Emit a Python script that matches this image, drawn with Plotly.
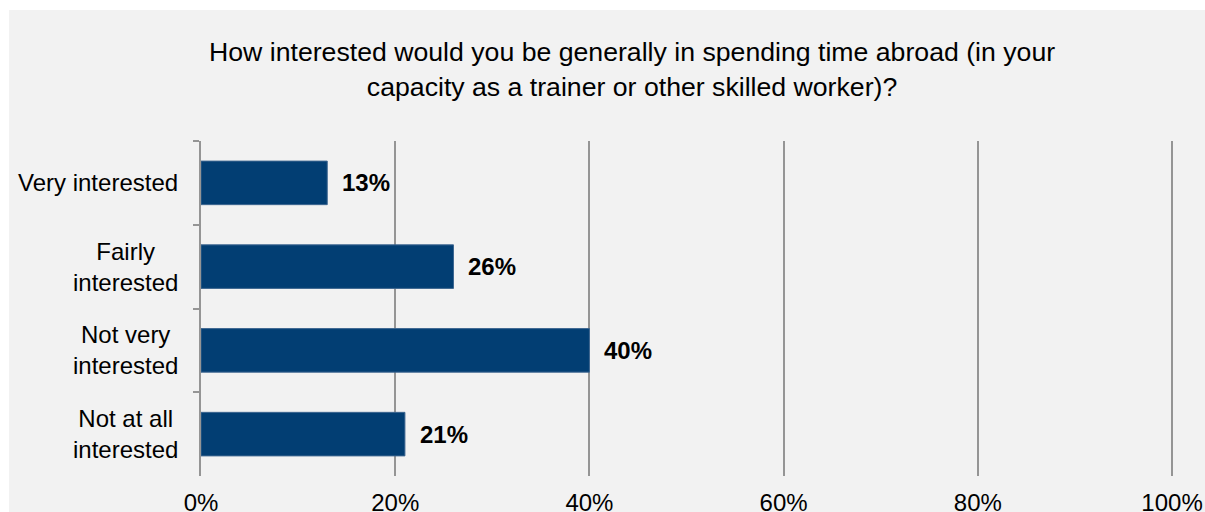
import plotly.graph_objects as go

# Survey responses
categories = ["Very interested", "Fairly<br>interested", "Not very<br>interested", "Not at all<br>interested"]
shares = [13, 26, 40, 21]
x_ticks = [0, 20, 40, 60, 80, 100]
x_tick_labels = ["0%", "20%", "40%", "60%", "80%", "100%"]
title_text = ("How interested would you be generally in spending time abroad (in your<br>"
              "capacity as a trainer or other skilled worker)?")

FONT = "Liberation Sans, Arial, sans-serif"
BAR = "#023e73"
GRID = "#959595"
PANEL = "#f2f2f2"

fig = go.Figure(
    go.Bar(
        x=shares,
        y=categories,
        orientation="h",
        width=0.52,
        marker=dict(color=BAR, line=dict(color="#3d6690", width=1)),
        hoverinfo="skip",
    )
)

annotations = []
# value labels to the right of each bar, with a panel-coloured box over the gridlines
for cat, val in zip(categories, shares):
    annotations.append(dict(
        x=val, y=cat, xref="x", yref="y", text=f"<b>{val}%</b>",
        showarrow=False, xanchor="left", yanchor="middle", xshift=13,
        font=dict(family=FONT, size=24, color="#000000"),
        bgcolor=PANEL, borderpad=1,
    ))
# category labels, centred lines, right edge set off from the axis
for cat in categories:
    annotations.append(dict(
        x=0, y=cat, xref="paper", yref="y", text=cat,
        showarrow=False, xanchor="right", yanchor="middle", align="center",
        xshift=-21, font=dict(family=FONT, size=24, color="#000000"),
    ))
# title
annotations.append(dict(
    x=0.5, y=1, xref="paper", yref="paper", text=title_text,
    showarrow=False, xanchor="center", yanchor="middle", align="center",
    xshift=-56, yshift=72, font=dict(family=FONT, size=26.67, color="#000000"),
))

fig.update_layout(
    width=1205,
    height=512,
    margin=dict(l=201, r=31, t=141, b=36, autoexpand=False),
    paper_bgcolor="#ffffff",
    plot_bgcolor="rgba(0,0,0,0)",
    showlegend=False,
    bargap=0.48,
    annotations=annotations,
    shapes=[dict(
        type="rect", layer="below",
        xref="paper", xsizemode="pixel", xanchor=0, x0=-192, x1=1010,
        yref="paper", ysizemode="pixel", yanchor=0, y0=-40, y1=466,
        fillcolor=PANEL, line=dict(width=0),
    )],
)

fig.update_xaxes(
    range=[0, 100.2],
    tickvals=x_ticks,
    ticktext=x_tick_labels,
    showgrid=True,
    gridcolor=GRID,
    gridwidth=2,
    zeroline=False,
    showline=False,
    ticks="",
    tickfont=dict(family=FONT, size=24, color="#000000"),
    ticklabelstandoff=10,
    fixedrange=True,
)

fig.update_yaxes(
    categoryorder="array",
    categoryarray=categories,
    autorange="reversed",
    showticklabels=False,
    tickson="boundaries",
    ticks="outside",
    ticklen=6,
    tickwidth=2,
    tickcolor=GRID,
    showline=True,
    linecolor=GRID,
    linewidth=2,
    showgrid=False,
    zeroline=False,
    fixedrange=True,
)

fig.write_html("out.html")
